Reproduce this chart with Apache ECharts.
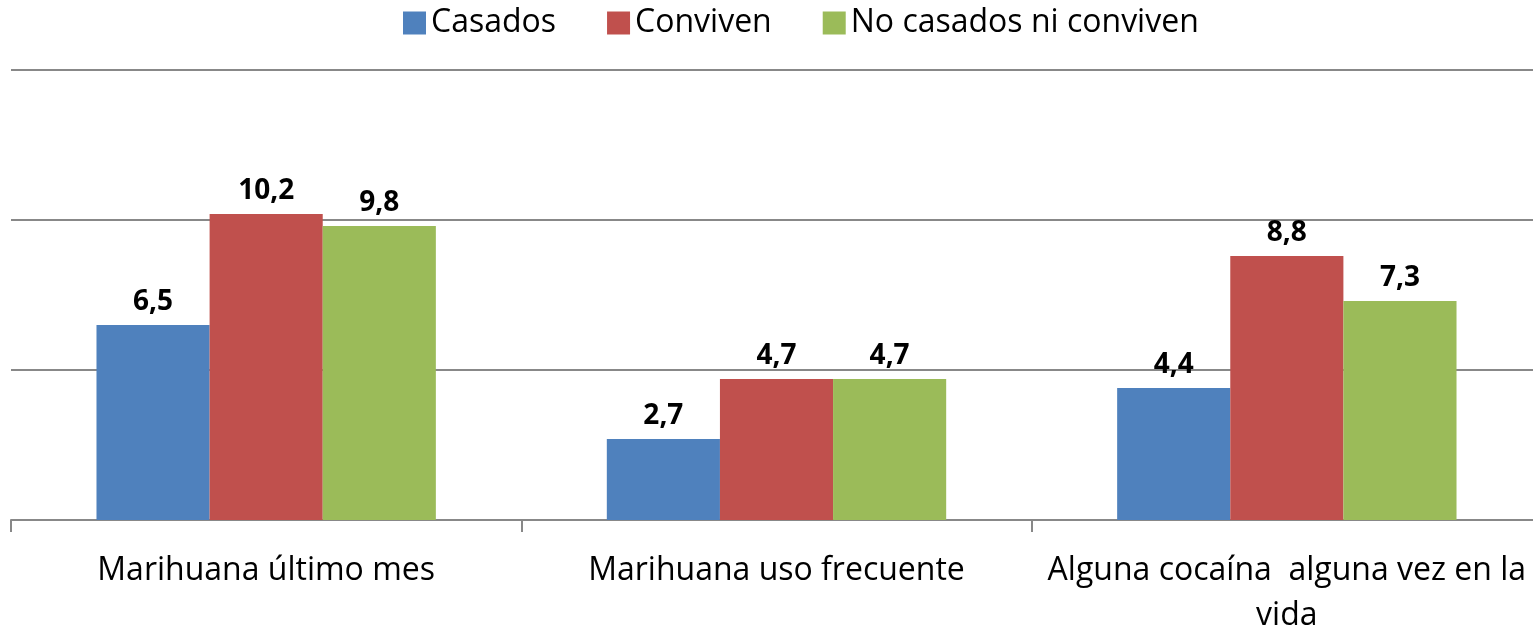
<!DOCTYPE html>
<html>
<head>
<meta charset="utf-8">
<script src="https://cdn.jsdelivr.net/npm/echarts@6/dist/echarts.min.js"></script>
<style>
html, body { margin: 0; padding: 0; background: #fff; overflow: hidden; }
#chart { width: 1533px; height: 628px; }
</style>
</head>
<body>
<div id="chart"></div>
<script>
var categories = ["Marihuana último mes", "Marihuana uso frecuente", "Alguna cocaína  alguna vez en la\nvida"];
var casados = [6.5, 2.7, 4.4];
var conviven = [10.2, 4.7, 8.8];
var noCasados = [9.8, 4.7, 7.3];
var seriesNames = ["Casados", "Conviven", "No casados ni conviven"];
var colors = ["#4f81bd", "#c0504d", "#9bbb59"];

function comma(p) {
    return String(p.value).replace(".", ",");
}

function mkSeries(name, data, color) {
    return {
        name: name,
        type: "bar",
        data: data,
        barGap: "0%",
        barCategoryGap: "33.5%",
        itemStyle: { color: color },
        label: {
            show: true,
            position: "top",
            distance: 9,
            formatter: comma,
            color: "#000",
            fontWeight: "bold",
            fontSize: 28,
            fontFamily: "Open Sans"
        }
    };
}

var chart = echarts.init(document.getElementById("chart"));
chart.setOption({
    animation: false,
    color: colors,
    legend: {
        top: 2,
        left: 398,
        itemWidth: 23,
        itemHeight: 23,
        itemGap: 51,
        icon: "rect",
        textStyle: { fontSize: 32, color: "#000", fontFamily: "Open Sans" },
        data: seriesNames
    },
    grid: { left: 11, top: 70, bottom: 108, width: 1531, outerBoundsMode: "none", containLabel: false },
    xAxis: {
        type: "category",
        data: categories,
        axisLine: { lineStyle: { color: "#888", width: 2 } },
        axisTick: { show: true, length: 12, lineStyle: { color: "#888", width: 2 } },
        axisLabel: {
            margin: 28,
            fontSize: 32,
            color: "#000",
            fontFamily: "Open Sans",
            lineHeight: 45,
            interval: 0
        }
    },
    yAxis: {
        type: "value",
        min: 0,
        max: 15,
        interval: 5,
        axisLabel: { show: false },
        axisLine: { show: false },
        axisTick: { show: false },
        splitLine: { lineStyle: { color: "#888", width: 2 } }
    },
    series: [
        mkSeries(seriesNames[0], casados, colors[0]),
        mkSeries(seriesNames[1], conviven, colors[1]),
        mkSeries(seriesNames[2], noCasados, colors[2])
    ]
});
</script>
</body>
</html>
